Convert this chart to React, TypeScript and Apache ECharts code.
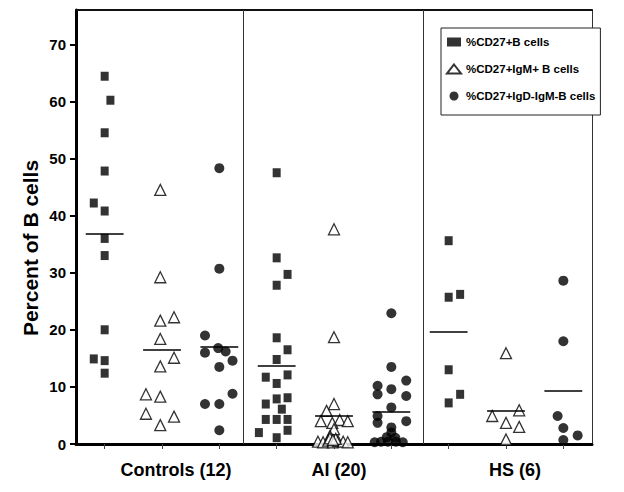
import React, { useEffect, useRef } from "react";
import * as echarts from "echarts";

const FONT = '"Liberation Sans", Arial, Helvetica, sans-serif';

// categories: 3 groups x 3 cell types
const groupLabels = ["Controls (12)", "AI (20)", "HS (6)"];
const seriesNames = ["%CD27+B cells", "%CD27+IgM+ B cells", "%CD27+IgD-IgM-B cells"];
const categoryIds = ["0", "1", "2", "3", "4", "5", "6", "7", "8"];
const yTicks = [0, 10, 20, 30, 40, 50, 60, 70];

// %CD27+ B cells
const ctrlCD27 = [64.4, 60.2, 54.5, 47.8, 42.2, 40.8, 36.0, 33.0, 20.0, 14.9, 14.6, 12.4];
const ctrlCD27Jit = [0, 0.1, 0, 0, -0.19, 0, 0, 0, 0, -0.19, 0, 0];
const aiCD27 = [47.5, 32.6, 29.7, 27.8, 18.6, 16.5, 14.8, 11.7, 12.1, 10.6, 7.9, 8.1, 7.0, 6.1, 4.3, 4.3, 4.3, 2.0, 2.4, 1.1];
const aiCD27Jit = [0, 0, 0.19, 0, 0, 0.19, 0, -0.19, 0.19, 0, 0, 0.19, -0.19, 0.09, -0.19, 0, 0.19, -0.31, 0.19, 0];
const hsCD27 = [35.6, 26.2, 25.7, 13.0, 8.7, 7.2];
const hsCD27Jit = [0, 0.2, 0, 0, 0.2, 0];

// %CD27+IgM+ B cells
const ctrlIgM = [44.5, 29.2, 21.6, 22.2, 18.4, 15.1, 13.6, 8.7, 8.3, 5.3, 4.8, 3.3];
const ctrlIgMJit = [-0.03, -0.03, -0.03, 0.21, -0.03, 0.21, -0.03, -0.28, -0.03, -0.28, 0.21, -0.03];
const aiIgM = [37.6, 18.7, 7.0, 5.8, 4.0, 4.2, 4.0, 3.7, 2.6, 1.4, 0.4, 0.3, 0.6, 0.3, 0.5, 0.4, 0.3, 1.0, 0.9, 0.7];
const aiIgMJit = [0, 0, 0, -0.13, -0.23, 0.1, 0.24, -0.03, 0, -0.07, -0.28, -0.19, -0.1, -0.02, 0.07, 0.16, 0.24, -0.07, 0.03, -0.02];
const hsIgM = [15.9, 5.9, 4.9, 3.7, 3.0, 0.8];
const hsIgMJit = [0, 0.23, -0.24, 0, 0.23, 0];

// %CD27+IgD-IgM- B cells
const ctrlDN = [48.3, 30.7, 19.0, 16.0, 16.8, 16.2, 14.6, 13.5, 8.8, 7.0, 7.0, 2.4];
const ctrlDNJit = [0, 0, -0.25, -0.25, -0.02, 0.11, 0.23, 0, 0.23, -0.25, 0, 0];
const aiDN = [22.9, 13.5, 11.1, 10.2, 9.6, 8.7, 8.4, 6.4, 4.9, 3.7, 4.0, 2.9, 2.0, 1.2, 1.1, 0.4, 0.4, 0.4, 0.3, 0.3];
const aiDNJit = [0, 0, 0.26, -0.24, 0, -0.24, 0.26, 0, -0.24, -0.24, 0.26, 0, 0, -0.08, 0.07, -0.18, -0.06, 0.08, 0.2, -0.29];
const hsDN = [28.6, 18.0, 4.9, 2.8, 1.5, 0.7];
const hsDNJit = [0, 0, -0.1, 0, 0.25, 0];

// group means (horizontal bars)
const meanCD27 = [36.8, 13.7, 19.7];
const meanIgM = [16.5, 5.0, 5.9];
const meanDN = [17.0, 5.6, 9.4];

// group separators (in category units)
const separators = [2.41, 5.55];

const build = (sIdx: number, groups: number[][], jits: number[][]) => {
  const out: number[][] = [];
  groups.forEach((vals, g) => {
    vals.forEach((v, i) => out.push([g * 3 + sIdx + jits[g][i], v]));
  });
  return out;
};

const meanLines = (sIdx: number, means: number[]) =>
  means.map((m, g) => [
    { coord: [g * 3 + sIdx - 0.33, m], lineStyle: { color: "#000", width: 1.6, type: "solid" } },
    { coord: [g * 3 + sIdx + 0.33, m] },
  ]);

export default function App() {
  const ref = useRef<HTMLDivElement>(null);
  useEffect(() => {
    if (!ref.current) return;
    const chart = echarts.init(ref.current, null, { renderer: "svg" });
    const black = "#000";
    const option: any = {
      animation: false,
      backgroundColor: "#fff",
      grid: { left: 76, right: 32, top: 10, bottom: 48, show: false },
      legend: {
        orient: "vertical",
        left: 441,
        top: 28,
        padding: [8, 5, 13, 5],
        itemGap: 15,
        itemWidth: 14,
        itemHeight: 9,
        backgroundColor: "#fff",
        borderColor: "#222",
        borderWidth: 1,
        selectedMode: false,
        z: 10,
        textStyle: { fontSize: 11.5, fontWeight: "bold", fontFamily: FONT, color: black },
        data: seriesNames,
      },
      xAxis: [
        {
          type: "category",
          position: "bottom",
          data: categoryIds,
          boundaryGap: true,
          axisLine: { show: true, onZero: false, lineStyle: { color: black, width: 3 } },
          axisTick: { show: true, alignWithLabel: true, length: 5, interval: 0, lineStyle: { color: "#444", width: 1 } },
          splitLine: { show: false },
          axisLabel: {
            interval: 0,
            margin: 17,
            fontSize: 18,
            fontWeight: "bold",
            fontFamily: FONT,
            color: black,
            formatter: (_v: string, i: number) => {
              if (i === 1) return "{g0|" + groupLabels[0] + "}";
              if (i === 4) return "{g1|" + groupLabels[1] + "}";
              if (i === 7) return "{g2|" + groupLabels[2] + "}";
              return "";
            },
            rich: {
              g0: { fontSize: 18, fontWeight: "bold", fontFamily: FONT, color: black, padding: [0, 0, 0, 28] },
              g1: { fontSize: 18, fontWeight: "bold", fontFamily: FONT, color: black, padding: [0, 0, 0, 10] },
              g2: { fontSize: 18, fontWeight: "bold", fontFamily: FONT, color: black, padding: [0, 0, 0, 18] },
            },
          },
        },
        {
          type: "value",
          position: "top",
          min: -0.5,
          max: 8.5,
          axisLine: { show: true, onZero: false, lineStyle: { color: "#111", width: 2 } },
          axisTick: { show: false },
          axisLabel: { show: false },
          splitLine: { show: false },
        },
      ],
      yAxis: [
        {
          type: "value",
          position: "left",
          min: 0,
          max: 76,
          interval: 10,
          axisLine: { show: true, onZero: false, lineStyle: { color: black, width: 3 } },
          axisTick: { show: true, inside: false, length: 6, customValues: yTicks, lineStyle: { color: black, width: 2 } },
          axisLabel: { customValues: yTicks, margin: 10, fontSize: 15, fontWeight: "bold", fontFamily: FONT, color: black },
          splitLine: { show: false },
        },
        {
          type: "value",
          position: "right",
          min: 0,
          max: 76,
          interval: 10,
          axisLine: { show: true, onZero: false, lineStyle: { color: "#333", width: 1 } },
          axisTick: { show: false },
          axisLabel: { show: false },
          splitLine: { show: false },
        },
      ],
      graphic: [
        {
          type: "text",
          x: 30,
          y: 248,
          rotation: Math.PI / 2,
          style: {
            text: "Percent of B cells",
            fontSize: 21,
            fontWeight: "bold",
            fontFamily: FONT,
            fill: black,
            textAlign: "center",
            textVerticalAlign: "middle",
            align: "center",
            verticalAlign: "middle",
          },
        },
      ],
      series: [
        {
          name: seriesNames[0],
          type: "scatter",
          xAxisIndex: 1,
          yAxisIndex: 0,
          symbol: "rect",
          symbolSize: [8, 9],
          itemStyle: { color: black },
          data: build(0, [ctrlCD27, aiCD27, hsCD27], [ctrlCD27Jit, aiCD27Jit, hsCD27Jit]),
          markLine: {
            silent: true,
            symbol: "none",
            label: { show: false },
            data: [
              ...separators.map((s) => ({ xAxis: s, lineStyle: { color: "#333", width: 1, type: "solid" } })),
              ...meanLines(0, meanCD27),
            ],
          },
        },
        {
          name: seriesNames[1],
          type: "scatter",
          xAxisIndex: 1,
          yAxisIndex: 0,
          symbol: "triangle",
          symbolSize: 11,
          itemStyle: { color: "#fff", borderColor: black, borderWidth: 1.3 },
          data: build(1, [ctrlIgM, aiIgM, hsIgM], [ctrlIgMJit, aiIgMJit, hsIgMJit]),
          markLine: { silent: true, symbol: "none", label: { show: false }, data: meanLines(1, meanIgM) },
        },
        {
          name: seriesNames[2],
          type: "scatter",
          xAxisIndex: 1,
          yAxisIndex: 0,
          symbol: "circle",
          symbolSize: 10,
          itemStyle: { color: black },
          data: build(2, [ctrlDN, aiDN, hsDN], [ctrlDNJit, aiDNJit, hsDNJit]),
          markLine: { silent: true, symbol: "none", label: { show: false }, data: meanLines(2, meanDN) },
        },
      ],
    };
    chart.setOption(option);
    return () => chart.dispose();
  }, []);
  return <div ref={ref} style={{ position: "fixed", left: 0, top: 0, width: 624, height: 492, background: "#fff" }} />;
}
